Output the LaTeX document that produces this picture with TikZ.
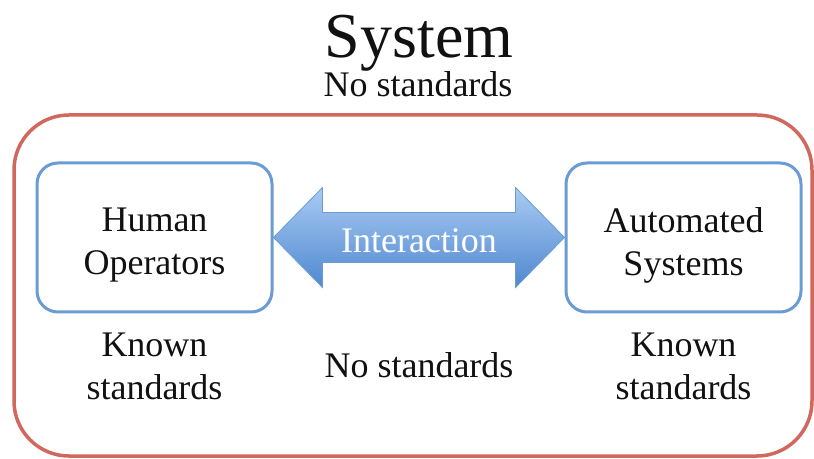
\documentclass[tikz,border=0pt]{standalone}
\usepackage{fontspec}
\setmainfont{Liberation Serif}
\usetikzlibrary{positioning,calc}
\definecolor{cFrame}{HTML}{D0685D}
\definecolor{cBox}{HTML}{6A9BD3}
\definecolor{cArrT}{HTML}{A9CBF3}
\definecolor{cArrB}{HTML}{4F88D0}
\definecolor{cInk}{HTML}{111111}
\tikzset{
  body/.style={font=\fontsize{36}{43}\selectfont, text=cInk, align=center, inner sep=0pt},
  part/.style={draw=cBox, line width=3pt, rounded corners=21pt, minimum width=235pt, minimum height=149pt, inner sep=0pt},
  frame/.style={draw=cFrame, line width=3.5pt, rounded corners=55pt},
  link/.style={draw=cBox, line width=0.8pt, top color=cArrT, bottom color=cArrB},
}

\begin{document}
\begin{tikzpicture}[x=1pt,y=1pt]
\useasboundingbox (0,0) rectangle (814,458);
% outer frame
\draw[frame] (14,2) rectangle (812,343);
\node[body, font=\fontsize{64}{70}\selectfont, anchor=base] (sys) at (419,400) {System};
\node[body, anchor=base] (sysns) at (418,361) {No standards};
% the two parts
\node[part] (hum) at (154.5,220.5) {};
\node[part] (aut) at (683.5,220.5) {};
\node[body] (humtxt) at ([yshift=-8pt]hum.center) {Human\\Operators};
\node[body] (auttxt) at ([yshift=-8pt]aut.center) {Automated\\Systems};
% double arrow between them
\path[link] (hum.east) -- ++(49,50) -- ++(0,-25) -- ($(aut.west)+(-49,25)$) -- ++(0,25)
  -- (aut.west) -- ++(-49,-50) -- ++(0,25) -- ($(hum.east)+(49,-25)$) -- ++(0,-25) -- cycle;
\coordinate (mid) at ($(hum.east)!0.5!(aut.west)$);
\node[body, text=white, anchor=base] (inter) at ([yshift=-15.5pt]mid) {Interaction};
% standards
\node[body, below=19pt of hum] (humstd) {Known\\standards};
\node[body, below=19pt of aut] (autstd) {Known\\standards};
\node[body, anchor=base] (midns) at ([yshift=-140.5pt]mid) {No standards};
\end{tikzpicture}
\end{document}
